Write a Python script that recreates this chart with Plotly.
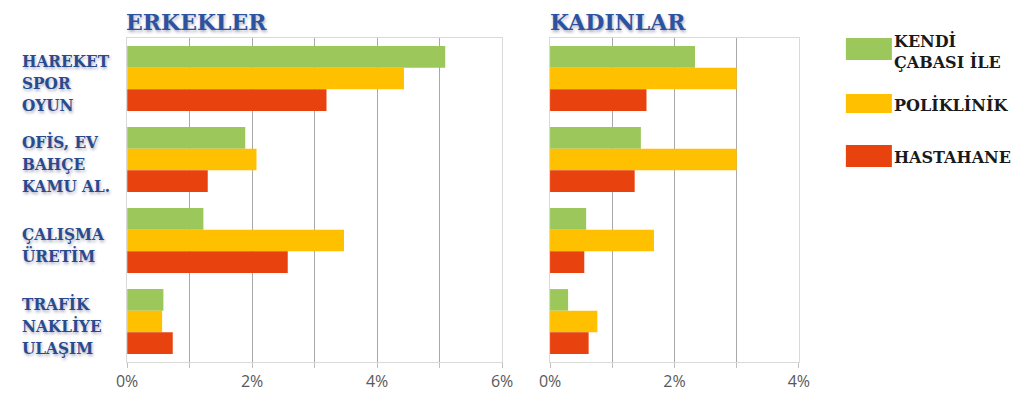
import plotly.graph_objects as go

categories = ['HAREKET<br>SPOR<br>OYUN', 'OFİS, EV<br>BAHÇE<br>KAMU AL.',
              'ÇALIŞMA<br>ÜRETİM', 'TRAFİK<br>NAKLİYE<br>ULAŞIM']
series_names = ['KENDİ<br>ÇABASI İLE', 'POLİKLİNİK', 'HASTAHANE']
colors = ['#9cc75b', '#ffc000', '#e8430f']

# percent values
erkek_kendi = [5.09, 1.89, 1.22, 0.58]
erkek_poli = [4.43, 2.07, 3.47, 0.56]
erkek_hast = [3.19, 1.29, 2.57, 0.73]
kadin_kendi = [2.33, 1.46, 0.58, 0.29]
kadin_poli = [3.00, 3.00, 1.67, 0.76]
kadin_hast = [1.55, 1.36, 0.55, 0.62]

erkek = [erkek_kendi, erkek_poli, erkek_hast]
kadin = [kadin_kendi, kadin_poli, kadin_hast]

W, H = 1026, 407
OFF = 8  # page margin of the html body, figure lands 8px right/down
serif = 'DejaVu Serif'
serif_c = 'DejaVu Serif Condensed'
label_blue = '#2a4a8e'
shadow = '1px 2px 3px rgba(20,30,80,0.35)'


def px(x):
    return (x - OFF) / W


def py(y):
    return 1 - (y - OFF) / H


fig = go.Figure()
for i in range(3):
    fig.add_trace(go.Bar(x=erkek[i], y=categories, orientation='h', name=series_names[i],
                         marker=dict(color=colors[i], line_width=0),
                         xaxis='x', yaxis='y', showlegend=False))
    fig.add_trace(go.Bar(x=kadin[i], y=categories, orientation='h', name=series_names[i],
                         marker=dict(color=colors[i], line_width=0),
                         xaxis='x2', yaxis='y2', showlegend=False))

y_dom = [py(362), py(38)]
axis_common = dict(showline=True, mirror=True, linecolor='#d9d9d9', linewidth=1,
                   showgrid=True, gridcolor='#a8a8a8', gridwidth=1, zeroline=False,
                   ticks='outside', ticklen=5, tickcolor='#c0c0c0',
                   tickfont=dict(family='Open Sans', size=16, color='#595959'))

fig.update_layout(
    width=W, height=H, paper_bgcolor='white', plot_bgcolor='white',
    margin=dict(l=0, r=0, t=0, b=0), barmode='group', bargap=0.2, bargroupgap=0,
    xaxis=dict(domain=[px(118.5), px(501.7)], range=[0, 6],
               tickvals=[0, 1, 2, 3, 4, 5, 6], ticktext=['0%', '', '2%', '', '4%', '', '6%'],
               anchor='y', **axis_common),
    xaxis2=dict(domain=[px(550.7), px(805)], range=[0, 4],
                tickvals=[0, 1, 2, 3, 4], ticktext=['0%', '', '2%', '', '4%'],
                anchor='y2', **axis_common),
    yaxis=dict(domain=y_dom, autorange='reversed', showticklabels=False, anchor='x',
               showline=True, mirror=True, linecolor='#d9d9d9', showgrid=False),
    yaxis2=dict(domain=y_dom, autorange='reversed', showticklabels=False, anchor='x2',
                showline=True, mirror=True, linecolor='#d9d9d9', showgrid=False),
)

# panel titles
for title, tx in [('ERKEKLER', 116), ('KADINLAR', 550)]:
    fig.add_annotation(text='<b>' + title + '</b>', x=px(tx), y=1, xref='paper', yref='paper',
                       xanchor='left', yanchor='top', showarrow=False, borderpad=0,
                       font=dict(family=serif, size=22, color='#2d52a0', shadow=shadow))

# category labels, left aligned
for cat in categories:
    fig.add_annotation(text='<b>' + cat + '</b>', x=px(9), y=cat, xref='paper', yref='y',
                       xanchor='left', yanchor='middle', align='left', showarrow=False,
                       yshift=-4,
                       font=dict(family=serif_c, size=17, color=label_blue, shadow=shadow))

# legend
legend_y = [(38, 60), (94, 113), (145, 167)]
legend_text_y = [51, 105, 157]
for i in range(3):
    y0, y1 = legend_y[i]
    fig.add_shape(type='rect', xref='paper', yref='paper', x0=px(853), x1=px(900),
                  y0=py(y1), y1=py(y0), fillcolor=colors[i], line_width=0)
    fig.add_annotation(text='<b>' + series_names[i] + '</b>', x=px(900), y=py(legend_text_y[i]),
                       xref='paper', yref='paper', xanchor='left', yanchor='middle',
                       align='left', showarrow=False,
                       font=dict(family=serif, size=16, color='#1a1a1a'))

fig.write_html('out.html')
